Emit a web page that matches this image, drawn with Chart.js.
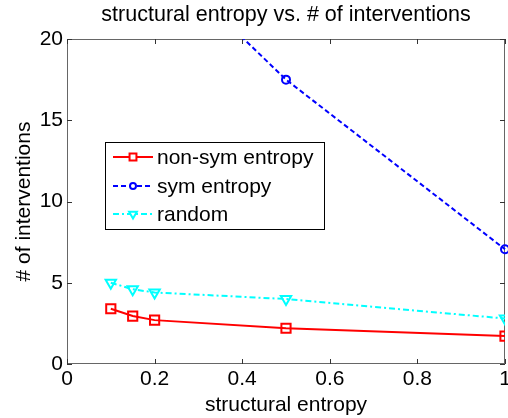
<!DOCTYPE html>
<html>
<head>
<meta charset="utf-8">
<script src="https://cdn.jsdelivr.net/npm/chart.js@4"></script>
<style>
  html, body { margin: 0; padding: 0; background: #fff; }
  #wrap { width: 508px; height: 418px; }
</style>
</head>
<body>
<div id="wrap"><canvas id="entropyChart" width="508" height="418"></canvas></div>
<script>
// values
const entropyLevels = [0.1, 0.15, 0.2, 0.5, 1];
const nonSymEntropy = [3.4, 2.95, 2.7, 2.2, 1.72];
const symEntropy = [null, null, 25.3, 17.5, 7.06];   // first points lie above the axis
const randomPick = [5.0, 4.6, 4.4, 4.0, 2.8];
const seriesNames = ['non-sym entropy', 'sym entropy', 'random'];
const xTicks = [0, 0.2, 0.4, 0.6, 0.8, 1];
const yTicks = [0, 5, 10, 15, 20];

const FONT = 'Liberation Sans, Arial, sans-serif';

function points(values) {
    return entropyLevels.map((x, i) => ({ x: x, y: values[i] }));
}

// matlab style box with inward ticks on all four sides
const frameAndTicks = {
    id: 'frameAndTicks',
    beforeDatasetsDraw(chart) {
        const { ctx, chartArea: a, scales } = chart;
        ctx.save();
        ctx.strokeStyle = '#666';
        ctx.lineWidth = 1;
        ctx.strokeRect(a.left + 0.5, a.top + 0.5, a.right - a.left - 1, a.bottom - a.top - 1);
        ctx.strokeStyle = '#333';
        ctx.beginPath();
        xTicks.forEach(v => {
            const px = Math.round(scales.x.getPixelForValue(v)) + 0.5;
            ctx.moveTo(px, a.bottom); ctx.lineTo(px, a.bottom - 5);
            ctx.moveTo(px, a.top); ctx.lineTo(px, a.top + 5);
        });
        yTicks.forEach(v => {
            const py = Math.round(scales.y.getPixelForValue(v)) + 0.5;
            ctx.moveTo(a.left, py); ctx.lineTo(a.left + 5, py);
            ctx.moveTo(a.right, py); ctx.lineTo(a.right - 5, py);
        });
        ctx.stroke();
        ctx.restore();
    }
};

// legend box with a line sample and marker, like matlab draws it
const boxLegend = {
    id: 'boxLegend',
    afterDatasetsDraw(chart) {
        const ctx = chart.ctx;
        const left = 105, top = 142, w = 219, h = 87;
        ctx.save();
        ctx.fillStyle = '#fff';
        ctx.fillRect(left, top, w, h);
        ctx.strokeStyle = '#000';
        ctx.lineWidth = 1;
        ctx.strokeRect(left + 0.5, top + 0.5, w, h);
        const rows = [157, 186, 214];
        chart.data.datasets.forEach((ds, i) => {
            const y = rows[i];
            ctx.strokeStyle = ds.borderColor;
            ctx.lineWidth = ds.borderWidth;
            ctx.setLineDash(ds.borderDash || []);
            ctx.beginPath();
            ctx.moveTo(113, y);
            ctx.lineTo(153, y);
            ctx.stroke();
            ctx.setLineDash([]);
            ctx.fillStyle = '#fff';
            ctx.strokeStyle = ds.pointBorderColor;
            ctx.lineWidth = ds.pointBorderWidth;
            Chart.helpers.drawPoint(ctx, {
                pointStyle: ds.pointStyle,
                radius: ds.pointRadius * 0.75,
                rotation: ds.pointRotation || 0,
                borderWidth: ds.pointBorderWidth
            }, 133, y);
            ctx.fillStyle = '#000';
            ctx.font = '21px ' + FONT;
            ctx.textBaseline = 'middle';
            ctx.textAlign = 'left';
            ctx.fillText(ds.label, 157, y + 1);
        });
        ctx.restore();
    }
};

const ctx = document.getElementById('entropyChart').getContext('2d');

const entropyChart = new Chart(ctx, {
    type: 'line',
    data: {
        datasets: [{
            label: seriesNames[0],
            data: points(nonSymEntropy),
            borderColor: '#ff0000',
            borderWidth: 2,
            pointStyle: 'rect',
            pointRadius: 6.5,
            pointBorderWidth: 2,
            pointBorderColor: '#ff0000',
            pointBackgroundColor: 'rgba(0,0,0,0)'
        }, {
            label: seriesNames[1],
            data: points(symEntropy),
            borderColor: '#0000ff',
            borderWidth: 2,
            borderDash: [5, 3],
            pointStyle: 'circle',
            pointRadius: 4,
            pointBorderWidth: 2,
            pointBorderColor: '#0000ff',
            pointBackgroundColor: 'rgba(0,0,0,0)',
            clip: { left: 0, top: 0, right: 8, bottom: 0 }
        }, {
            label: seriesNames[2],
            data: points(randomPick),
            borderColor: '#00ffff',
            borderWidth: 2,
            borderDash: [6, 3, 2, 3],
            pointStyle: 'triangle',
            pointRotation: 180,
            pointRadius: 6,
            pointBorderWidth: 2,
            pointBorderColor: '#00ffff',
            pointBackgroundColor: 'rgba(0,0,0,0)'
        }]
    },
    options: {
        responsive: false,
        animation: false,
        spanGaps: false,
        layout: {
            autoPadding: false,
            padding: { top: 0, right: 3, left: 0, bottom: 0 }
        },
        plugins: {
            legend: { display: false },
            tooltip: { enabled: false },
            title: {
                display: true,
                fullSize: false,
                text: 'structural entropy vs. # of interventions',
                color: '#000',
                font: { family: FONT, size: 21.5, weight: 'normal' },
                padding: { top: 2, bottom: 11.2 }
            }
        },
        scales: {
            x: {
                type: 'linear',
                min: 0,
                max: 1,
                afterBuildTicks: scale => { scale.ticks = xTicks.map(v => ({ value: v })); },
                afterFit: scale => {
                    scale.height = 54;
                    scale.paddingLeft = 0;
                    scale.paddingRight = 0;
                },
                grid: { display: false, drawTicks: false },
                border: { display: false },
                ticks: {
                    color: '#000',
                    padding: 3,
                    maxRotation: 0,
                    font: { family: FONT, size: 21 },
                    callback: v => String(v)
                },
                title: {
                    display: true,
                    text: 'structural entropy',
                    color: '#000',
                    font: { family: FONT, size: 21 },
                    padding: { top: 0, bottom: 0 }
                }
            },
            y: {
                min: 0,
                max: 20,
                afterBuildTicks: scale => { scale.ticks = yTicks.map(v => ({ value: v })); },
                afterFit: scale => { scale.width = 67; },
                grid: { display: false, drawTicks: false },
                border: { display: false },
                ticks: {
                    color: '#000',
                    padding: 4,
                    font: { family: FONT, size: 21 },
                    callback: v => String(v)
                },
                title: {
                    display: true,
                    text: '# of interventions',
                    color: '#000',
                    font: { family: FONT, size: 21 },
                    padding: { top: 12, bottom: 0 }
                }
            }
        }
    },
    plugins: [frameAndTicks, boxLegend]
});
</script>
</body>
</html>
